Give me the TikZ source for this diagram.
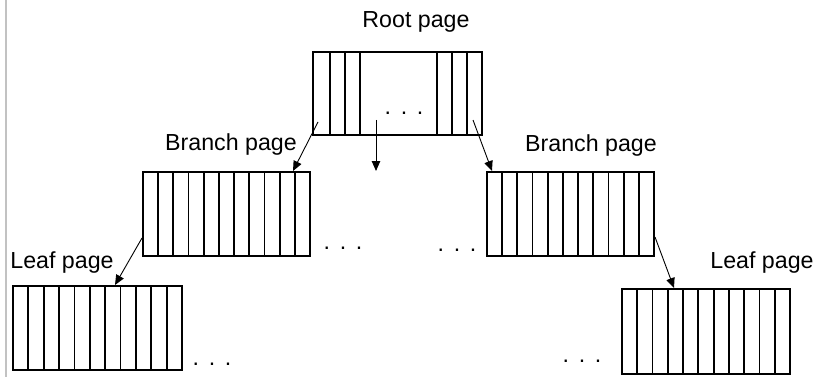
\documentclass[tikz,border=0pt]{standalone}
\usepackage{fontspec}
\setmainfont{Liberation Sans}
\usetikzlibrary{calc,arrows.meta}
\tikzset{
  pagebox/.style={draw, line width=1.8pt, inner sep=0pt, outer sep=0pt, anchor=north west},
  celline/.style={line width=1.8pt},
  conn/.style={line width=0.9pt, -{Triangle[length=10pt,width=8.5pt]}},
  lbl/.style={font=\fontsize{23.2}{27}\selectfont, anchor=base, inner sep=0pt},
  dots/.style={font=\fontsize{23.2}{27}\selectfont, anchor=base, inner sep=0pt},
}
\newcommand{\dotrow}{.\hspace{9.6pt}.\hspace{9.6pt}.}
\begin{document}
\begin{tikzpicture}[x=1pt,y=-1pt]
\useasboundingbox (0,0) rectangle (819,377);
\fill[white] (0,0) rectangle (819,377);
% left gray rule
\fill[black!24] (5,0) rectangle (7.2,377);

% root page
\node[pagebox, minimum width=169pt, minimum height=83pt] (root) at (313,52) {};
\foreach \x in {330,345,360,437,452,467}
  \draw[celline] (\x,52) -- (\x,135);
\node[lbl] (rootlbl) at (416,28) {Root page};
\node[dots] (rootdots) at (404,115) {\dotrow};

% branch pages
\node[pagebox, minimum width=167pt, minimum height=84pt] (bl) at (143,172) {};
\node[pagebox, minimum width=167pt, minimum height=84pt] (br) at (487,172) {};
% leaf pages
\node[pagebox, minimum width=169pt, minimum height=84pt] (ll) at (13,286) {};
\node[pagebox, minimum width=168pt, minimum height=85pt] (lr) at (622,289) {};

\foreach \n in {bl,br,ll,lr}
  \foreach \i in {1,...,10}
    \draw[celline] ($(\n.north west)!\i/11!(\n.north east)$) -- ($(\n.south west)!\i/11!(\n.south east)$);

% labels
\node[lbl] (bllbl) at (231,150) {Branch page};
\node[lbl] (brlbl) at (591,151) {Branch page};
\node[lbl] (lllbl) at (62,268) {Leaf page};
\node[lbl] (lrlbl) at (762,268) {Leaf page};

% dots
\node[dots] (bldots) at (343,249) {\dotrow};
\node[dots] (brdots) at (457,251) {\dotrow};
\node[dots] (lldots) at (212,365) {\dotrow};
\node[dots] (lrdots) at (582,362) {\dotrow};

% connector end points
\coordinate (r1) at (318,122);
\coordinate (r2) at (376,120);
\coordinate (r3) at (473,120);
\coordinate (c2) at (376,171);
\coordinate (b1) at (142,238);
\coordinate (b2) at (655,237);
\coordinate (blin) at (293,171);
\coordinate (brin) at (492,171);
\coordinate (llin) at (115,285);
\coordinate (lrin) at (674,288);

\draw[conn] (r1) -- (blin);
\draw[conn] (r2) -- (c2);
\draw[conn] (r3) -- (brin);
\draw[conn] (b1) -- (llin);
\draw[conn] (b2) -- (lrin);
\end{tikzpicture}
\end{document}
